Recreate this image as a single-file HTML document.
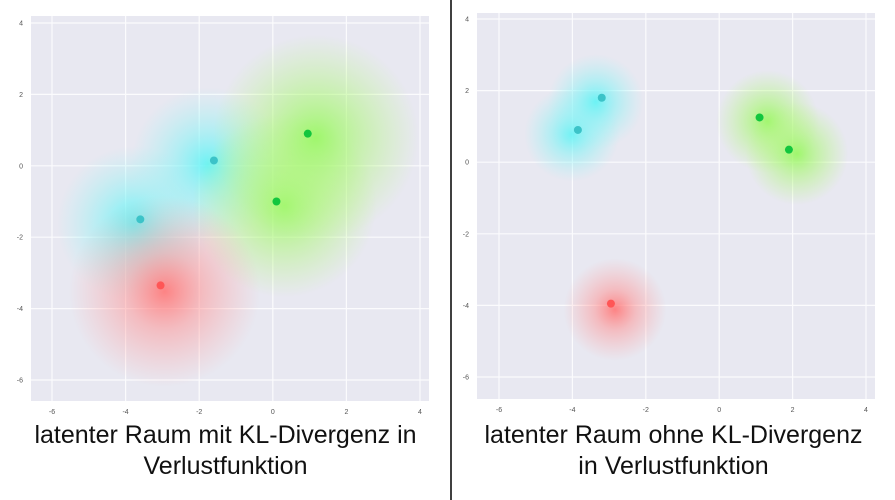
<!DOCTYPE html>
<html><head><meta charset="utf-8"><style>
body{margin:0;width:895px;height:500px;background:#fff;overflow:hidden;font-family:"Liberation Sans",sans-serif}
.cap{position:absolute;font-size:25px;line-height:31px;text-align:center;color:#111}
</style></head><body>
<svg id="chart" width="895" height="500" style="position:absolute;left:0;top:0">
<defs>
<radialGradient id="gc"><stop offset="0" stop-color="#5ff3f5" stop-opacity="0.9"/><stop offset="0.4" stop-color="#7ff3f5" stop-opacity="0.55"/><stop offset="1" stop-color="#9ff3f5" stop-opacity="0"/></radialGradient>
<radialGradient id="gg"><stop offset="0" stop-color="#98f860" stop-opacity="0.9"/><stop offset="0.4" stop-color="#a8f870" stop-opacity="0.55"/><stop offset="1" stop-color="#b8f880" stop-opacity="0"/></radialGradient>
<radialGradient id="gr"><stop offset="0" stop-color="#ff7878" stop-opacity="0.9"/><stop offset="0.4" stop-color="#ff9090" stop-opacity="0.5"/><stop offset="1" stop-color="#ffa0a0" stop-opacity="0"/></radialGradient>
</defs>
<line x1="451" y1="0" x2="451" y2="500" stroke="#000" stroke-width="1.5"/>
</svg>
<div class="cap" style="left:0;width:451px;top:420px">latenter Raum mit KL-Divergenz in<br>Verlustfunktion</div>
<div class="cap" style="left:452px;width:443px;top:420px">latenter Raum ohne KL-Divergenz<br>in Verlustfunktion</div>
<script>
const xTicks=[-6,-4,-2,0,2,4];
const yTicks=[4,2,0,-2,-4,-6];
const classes=['cyan','cyan','green','green','red'];
const leftX=[-3.6,-1.6,0.1,0.95,-3.05];
const leftY=[-1.5,0.15,-1.0,0.9,-3.35];
const leftSpread=[2.1,2.1,2.5,2.8,2.6];
const rightX=[-3.85,-3.2,1.1,1.9,-2.95];
const rightY=[0.9,1.8,1.25,0.35,-3.95];
const rightSpread=[1.3,1.3,1.4,1.4,1.4];
const grad={cyan:'url(#gc)',green:'url(#gg)',red:'url(#gr)'};
const dotCol={cyan:'#3cc3c8',green:'#12c63e',red:'#ff5656'};
const NS='http://www.w3.org/2000/svg';
const svg=document.getElementById('chart');
function mk(t,a,p){const e=document.createElementNS(NS,t);for(const k in a)e.setAttribute(k,a[k]);(p||svg).appendChild(e);return e;}
function panel(name,box,xs,ys,sp){
 const g=mk('g',{});
 
 
 const sx=v=>box.x0+(v-(-6))/(10)*(box.x1-box.x0);
 const sy=v=>box.y0+(4-v)/(10)*(box.y1-box.y0);
 const bg=mk('rect',{x:box.l,y:box.t,width:box.r-box.l,height:box.b-box.t,fill:'#e8e8f1'},g);
 
 
 xTicks.forEach(v=>{const l=mk('line',{x1:sx(v),x2:sx(v),y1:box.t,y2:box.b,stroke:'#fbfbfd','stroke-width':1.2},g);
  
  
  const t=mk('text',{x:sx(v),y:box.b+13,'font-size':7,fill:'#555','text-anchor':'middle'},g);t.textContent=v;
  
  });
 yTicks.forEach(v=>{const l=mk('line',{x1:box.l,x2:box.r,y1:sy(v),y2:sy(v),stroke:'#fbfbfd','stroke-width':1.2},g);
  
  
  const t=mk('text',{x:box.l-8,y:sy(v)+2.5,'font-size':7,fill:'#555','text-anchor':'end'},g);t.textContent=v;
  
  });
 const ux=(box.x1-box.x0)/10;
 const clip=mk('clipPath',{id:'clip-'+name},g);
 mk('rect',{x:box.l,y:box.t,width:box.r-box.l,height:box.b-box.t},clip);
 const gl=mk('g',{'clip-path':'url(#clip-'+name+')'},g);
 xs.forEach((v,i)=>{const c=mk('circle',{cx:sx(v)+(classes[i]=='green'?8:(classes[i]=='red'?4:-6)),cy:sy(ys[i])+(classes[i]=='red'?6:4),r:sp[i]*ux,fill:grad[classes[i]]},gl);
  
  });
 xs.forEach((v,i)=>{const c=mk('circle',{cx:sx(v),cy:sy(ys[i]),r:4,fill:dotCol[classes[i]]},g);
  
  });
}
panel('left-scatter',{l:31,r:429,t:16,b:401,x0:52,x1:420,y0:23,y1:380},leftX,leftY,leftSpread);
panel('right-scatter',{l:477,r:875,t:13,b:399,x0:499,x1:866,y0:19,y1:377},rightX,rightY,rightSpread);
</script>
</body></html>
